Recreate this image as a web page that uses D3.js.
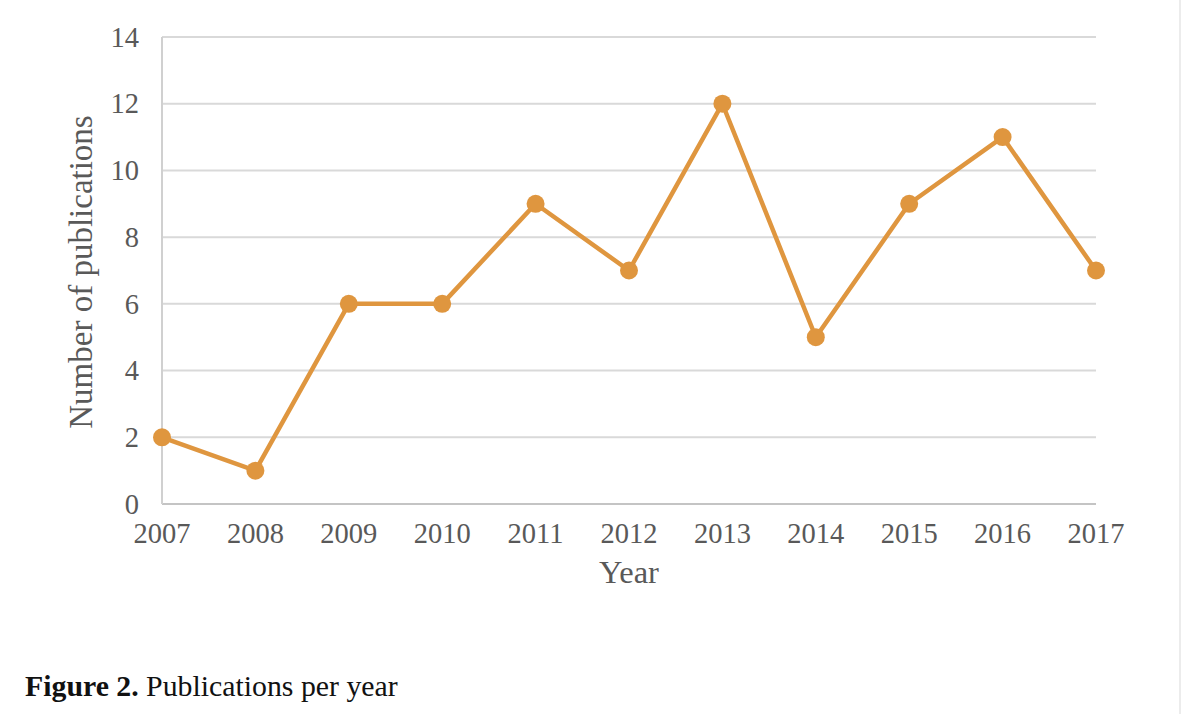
<!DOCTYPE html>
<html>
<head>
<meta charset="utf-8">
<script src="https://cdn.jsdelivr.net/npm/d3@7"></script>
<style>
  body { margin: 0; background: #fff; }
  text { font-family: "Liberation Serif", "Times New Roman", serif; }
</style>
</head>
<body>
<div id="viz"></div>
<script>
// data
const years = [2007, 2008, 2009, 2010, 2011, 2012, 2013, 2014, 2015, 2016, 2017];
const publications = [2, 1, 6, 6, 9, 7, 12, 5, 9, 11, 7];
const yTicks = [0, 2, 4, 6, 8, 10, 12, 14];

const width = 1182, height = 714;
const plotL = 162, plotR = 1096, plotT = 37, plotB = 504;
const orange = '#df963f';

const svg = d3.select('#viz').append('svg')
  .attr('width', width).attr('height', height);

const x = d3.scalePoint().domain(years).range([plotL, plotR]);
const y = d3.scaleLinear().domain([0, 14]).range([plotB, plotT]);

// gridlines
svg.append('g').selectAll('line')
  .data(yTicks.filter(d => d > 0))
  .join('line')
    .attr('x1', plotL).attr('x2', plotR)
    .attr('y1', d => y(d)).attr('y2', d => y(d))
    .attr('stroke', '#d9d9d9').attr('stroke-width', 2);

// axis lines
svg.append('line')
  .attr('x1', plotL).attr('x2', plotR).attr('y1', y(0)).attr('y2', y(0))
  .attr('stroke', '#c4c4c4').attr('stroke-width', 2);
svg.append('line')
  .attr('x1', plotL).attr('x2', plotL).attr('y1', y(0)).attr('y2', y(14))
  .attr('stroke', '#d0d0d0').attr('stroke-width', 2);

// tick labels
svg.append('g').selectAll('text')
  .data(yTicks)
  .join('text')
    .attr('x', 139).attr('y', d => y(d))
    .attr('dy', '0.34em')
    .attr('text-anchor', 'end')
    .attr('font-size', 28.5).attr('fill', '#595959')
    .text(d => d);

svg.append('g').selectAll('text')
  .data(years)
  .join('text')
    .attr('x', d => x(d)).attr('y', 543)
    .attr('text-anchor', 'middle')
    .attr('font-size', 28.5).attr('fill', '#595959')
    .text(d => d);

// axis titles
svg.append('text')
  .attr('x', 629).attr('y', 583)
  .attr('text-anchor', 'middle')
  .attr('font-size', 32.5).attr('fill', '#595959')
  .text('Year');

svg.append('text')
  .attr('transform', 'translate(92,272) rotate(-90)')
  .attr('text-anchor', 'middle')
  .attr('font-size', 33).attr('fill', '#595959')
  .text('Number of publications');

// line + markers
const pts = years.map((yr, i) => ({ yr, v: publications[i] }));
svg.append('path')
  .datum(pts)
  .attr('fill', 'none')
  .attr('stroke', orange).attr('stroke-width', 4.5)
  .attr('stroke-linejoin', 'round')
  .attr('d', d3.line().x(d => x(d.yr)).y(d => y(d.v)));

svg.append('g').selectAll('circle')
  .data(pts)
  .join('circle')
    .attr('cx', d => x(d.yr)).attr('cy', d => y(d.v))
    .attr('r', 9)
    .attr('fill', orange);

// caption
const cap = svg.append('text')
  .attr('x', 25).attr('y', 696)
  .attr('font-size', 29.8).attr('fill', '#111');
cap.append('tspan').attr('font-weight', 'bold').text('Figure 2.');
cap.append('tspan').text(' Publications per year');

// thin right border
svg.append('line')
  .attr('x1', 1180).attr('x2', 1180).attr('y1', 0).attr('y2', height)
  .attr('stroke', '#e6e6e6').attr('stroke-width', 1.5);
</script>
</body>
</html>
